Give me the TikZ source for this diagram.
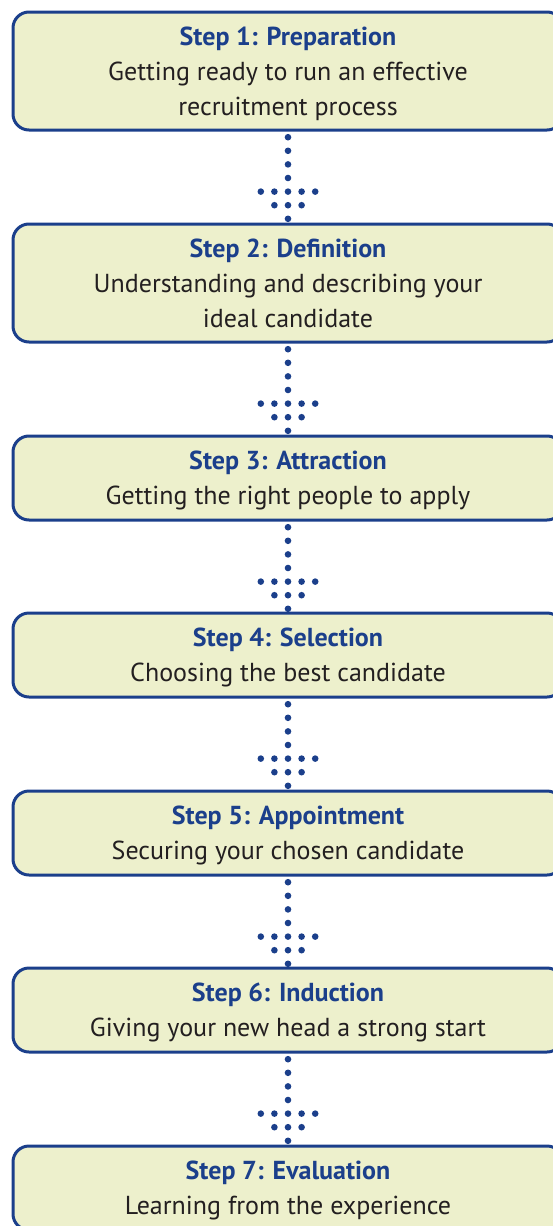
\documentclass[tikz,border=0pt]{standalone}
\usepackage{fontspec}
\setmainfont{PT Sans}
\usepackage{tikz}

\definecolor{stepblue}{HTML}{1B3F8B}
\definecolor{stepfill}{HTML}{EDF0CC}
\definecolor{steptext}{HTML}{231F20}

\begin{document}
\begin{tikzpicture}[x=1pt, y=-1pt]
        \tikzset{stepbox/.style={draw=stepblue, fill=stepfill, line width=3pt, rounded corners=16pt,
                                 minimum width=550pt, align=center, text=steptext, text depth=0pt,
                                 font=\fontsize{26}{35}\selectfont},
                 dotline/.style={draw=stepblue, line width=6.6pt, line cap=round,
                                 dash pattern=on 0pt off 13.6pt, dash phase=7.9pt}}
        \useasboundingbox (0,0) rectangle (553,1226);
        \clip (0,0) rectangle (553,1226);
        \node [stepbox, minimum height=118pt] (s1) at (288, 71)  {\textcolor{stepblue}{\bfseries Step 1: Preparation}\\Getting ready to run an effective\\recruitment process};
        \node [stepbox, minimum height=118pt] (s2) at (288, 283) {\textcolor{stepblue}{\bfseries Step 2: Definition}\\Understanding and describing your\\ideal candidate};
        \node [stepbox, minimum height=84pt]  (s3) at (288, 478) {\textcolor{stepblue}{\bfseries Step 3: Attraction}\\Getting the right people to apply};
        \node [stepbox, minimum height=84pt]  (s4) at (288, 655) {\textcolor{stepblue}{\bfseries Step 4: Selection}\\Choosing the best candidate};
        \node [stepbox, minimum height=84pt]  (s5) at (288, 833) {\textcolor{stepblue}{\bfseries Step 5: Appointment}\\Securing your chosen candidate};
        \node [stepbox, minimum height=84pt]  (s6) at (288, 1010){\textcolor{stepblue}{\bfseries Step 6: Induction}\\Giving your new head a strong start};
        \node [stepbox, minimum height=84pt]  (s7) at (288, 1188){\textcolor{stepblue}{\bfseries Step 7: Evaluation}\\Learning from the experience};
        % dotted arrows between the steps
        \foreach \a/\b in {s1/s2, s2/s3, s3/s4, s4/s5, s5/s6, s6/s7} {
            \draw [dotline] (\a.south) -- (\b.north);
            \foreach \dx/\dy in {-27.2/60.1, -13.6/60.1, 13.6/60.1, 27.2/60.1, -13.6/73.7, 13.6/73.7}
                \fill [stepblue] ([xshift=\dx pt, yshift=-\dy pt]\a.south) circle [radius=3.3pt];
        }
    \end{tikzpicture}
\end{document}
